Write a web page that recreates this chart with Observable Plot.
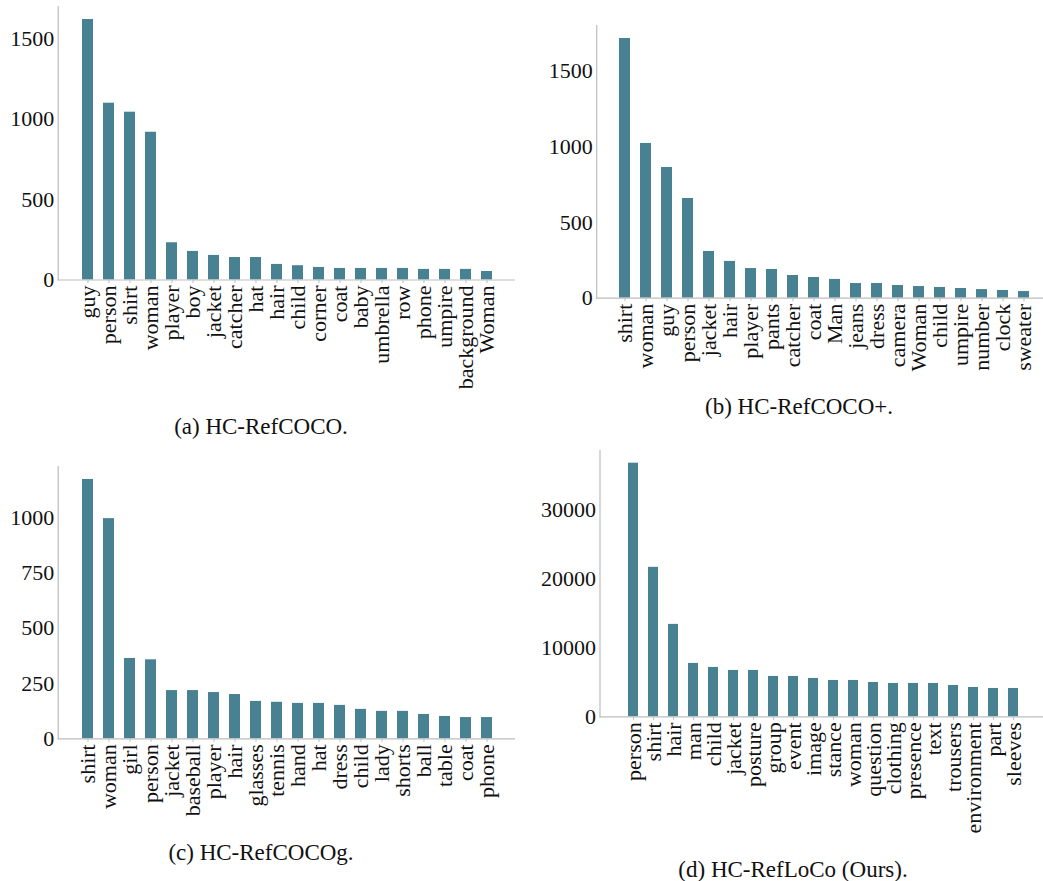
<!DOCTYPE html>
<html>
<head>
<meta charset="utf-8">
<script src="https://cdn.jsdelivr.net/npm/d3@7"></script>
<script src="https://cdn.jsdelivr.net/npm/@observablehq/plot@0.6"></script>
<style>
  html, body { margin: 0; padding: 0; background: #fff; overflow: hidden; }
  #fig { position: relative; width: 1043px; height: 881px; overflow: hidden; }
  .panel { position: absolute; }
  .caption {
    position: absolute; transform: translate(-50%, -50%);
    font-family: "Liberation Serif", "DejaVu Serif", serif; font-size: 23px;
    color: #111; white-space: nowrap;
  }
</style>
</head>
<body>
<div id="fig"></div>
<script>
// Most frequent head nouns per dataset.
const refcocoWords = ["guy", "person", "shirt", "woman", "player", "boy", "jacket", "catcher", "hat", "hair",
  "child", "corner", "coat", "baby", "umbrella", "row", "phone", "umpire", "background", "Woman"];
const refcocoCounts = [1622, 1101, 1045, 920, 232, 178, 153, 140, 140, 97,
  89, 78, 72, 72, 72, 72, 66, 66, 66, 53];

const refcocoPlusWords = ["shirt", "woman", "guy", "person", "jacket", "hair", "player", "pants", "catcher", "coat",
  "Man", "jeans", "dress", "camera", "Woman", "child", "umpire", "number", "clock", "sweater"];
const refcocoPlusCounts = [1717, 1023, 864, 659, 309, 243, 196, 190, 150, 137,
  124, 97, 97, 84, 77, 71, 64, 57, 51, 44];

const refcocogWords = ["shirt", "woman", "girl", "person", "jacket", "baseball", "player", "hair", "glasses", "tennis",
  "hand", "hat", "dress", "child", "lady", "shorts", "ball", "table", "coat", "phone"];
const refcocogCounts = [1172, 995, 363, 357, 218, 218, 209, 200, 169, 165,
  160, 160, 151, 133, 124, 124, 110, 101, 96, 96];

const reflocoWords = ["person", "shirt", "hair", "man", "child", "jacket", "posture", "group", "event", "image",
  "stance", "woman", "question", "clothing", "presence", "text", "trousers", "environment", "part", "sleeves"];
const reflocoCounts = [36817, 21700, 13416, 7747, 7166, 6730, 6730, 5857, 5857, 5567,
  5276, 5276, 4985, 4840, 4840, 4840, 4549, 4258, 4113, 4113];

const refcocoTicks = [0, 500, 1000, 1500];
const refcocoPlusTicks = [0, 500, 1000, 1500];
const refcocogTicks = [0, 250, 500, 750, 1000];
const reflocoTicks = [0, 10000, 20000, 30000];

const captions = ["(a) HC-RefCOCO.", "(b) HC-RefCOCO+.", "(c) HC-RefCOCOg.", "(d) HC-RefLoCo (Ours)."];

const barColor = "#488292";
const axisColor = "#bdbdbd";
const font = "'Liberation Serif', 'DejaVu Serif', serif";

const panels = [
  {words: refcocoWords, counts: refcocoCounts, ticks: refcocoTicks, caption: captions[0],
   left: 0, top: 0, width: 520, marginLeft: 57.7, marginRight: 5, marginTop: 6, baseline: 279.5,
   capX: 261, capY: 427},
  {words: refcocoPlusWords, counts: refcocoPlusCounts, ticks: refcocoPlusTicks, caption: captions[1],
   left: 520, top: 0, width: 545, marginLeft: 76.2, marginRight: 12.8, marginTop: 25, baseline: 297.7,
   capX: 799, capY: 407},
  {words: refcocogWords, counts: refcocogCounts, ticks: refcocogTicks, caption: captions[2],
   left: 0, top: 440, width: 520, marginLeft: 57.7, marginRight: 5, marginTop: 26, baseline: 298.3,
   capX: 261, capY: 853},
  {words: reflocoWords, counts: reflocoCounts, ticks: reflocoTicks, caption: captions[3],
   left: 520, top: 440, width: 540, marginLeft: 79.5, marginRight: 13.7, marginTop: 10, baseline: 276.3,
   capX: 793, capY: 870}
];

const fig = document.getElementById("fig");

for (const p of panels) {
  const rows = p.words.map((word, i) => ({word, count: p.counts[i]}));
  const marginBottom = 125;
  const chart = Plot.plot({
    width: p.width,
    height: p.baseline + marginBottom,
    marginLeft: p.marginLeft,
    marginRight: p.marginRight,
    marginTop: p.marginTop,
    marginBottom,
    style: {fontFamily: font, fontSize: "22px", color: "#111", background: "transparent", overflow: "visible"},
    x: {domain: p.words, paddingInner: 0.5, paddingOuter: 0.975, label: null},
    y: {domain: [0, d3.max(p.counts) * 1.05], label: null},
    marks: [
      Plot.barY(rows, {x: "word", y: "count", fill: barColor}),
      Plot.frame({anchor: "left", stroke: axisColor, strokeWidth: 1.2}),
      Plot.ruleY([0], {stroke: axisColor, strokeWidth: 1.2}),
      Plot.axisY({ticks: p.ticks, tickSize: 0, tickPadding: 4, tickFormat: d => String(d), label: null}),
      Plot.axisX({tickSize: 3.5, stroke: axisColor, tickPadding: 2, tickRotate: -90, label: null})
    ]
  });
  chart.classList.add("panel");
  chart.style.left = p.left + "px";
  chart.style.top = p.top + "px";
  fig.appendChild(chart);

  const cap = document.createElement("div");
  cap.className = "caption";
  cap.textContent = p.caption;
  cap.style.left = p.capX + "px";
  cap.style.top = p.capY + "px";
  fig.appendChild(cap);
}
</script>
</body>
</html>
